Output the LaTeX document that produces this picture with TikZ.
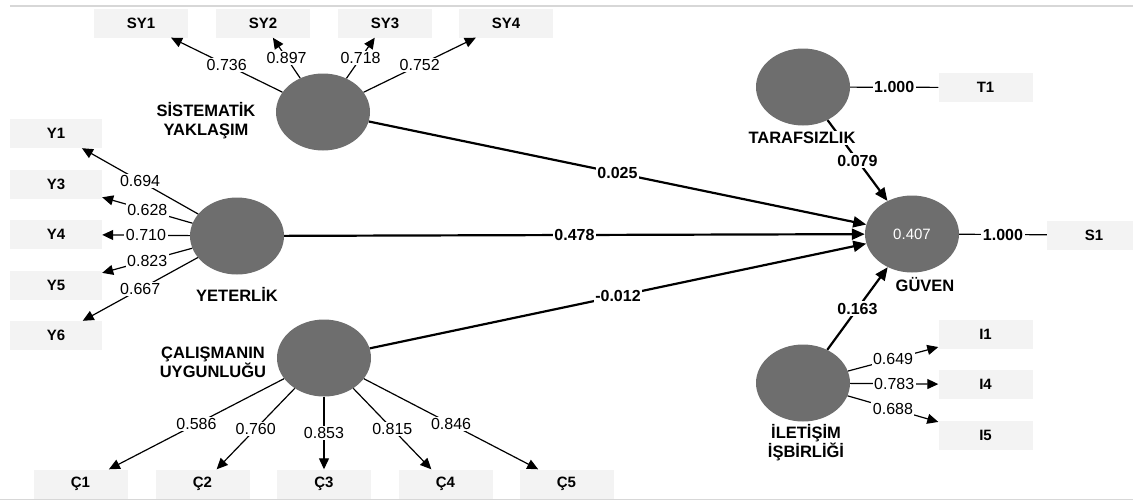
\documentclass[tikz,border=0pt]{standalone}
\usepackage{fontspec}
\setmainfont{Liberation Sans}
\usetikzlibrary{shapes.geometric,arrows.meta}
\definecolor{lvgray}{RGB}{110,110,110}
\definecolor{boxgray}{RGB}{243,243,243}
\definecolor{framegray}{RGB}{215,215,215}

\begin{document}
\begin{tikzpicture}
  [
    x=1pt,
    y=-1pt,
    >={Triangle[length=11pt,width=10pt]},
    lv/.style={ellipse, fill=lvgray, minimum width=94pt, minimum height=77pt, inner sep=0pt},
    ind/.style={fill=boxgray, minimum width=94pt, minimum height=29pt, inner sep=0pt, font=\fontsize{15}{17}\selectfont\bfseries},
    lvname/.style={fill=white, inner sep=1pt, align=center, font=\fontsize{16.5}{19}\selectfont\bfseries},
    load/.style={->, line width=1.2pt},
    single/.style={line width=1.2pt},
    struct/.style={->, line width=2.2pt, >={Triangle[length=13pt,width=11pt]}},
    lbl/.style={fill=white, inner sep=1.5pt, font=\fontsize{16}{18}\selectfont},
    coef/.style={lbl, font=\fontsize{16}{18}\selectfont\bfseries},
  ]
  \useasboundingbox (0,0) rectangle (1133,501);
  \draw[framegray, line width=2pt] (10,6) -- (1133,6);
  \draw[framegray, line width=1.5pt] (0,499.5) -- (1133,499.5);

  % latent variables
  \node[lv] (sy) at (323,112) {};
  \node[lv] (ye) at (237,236) {};
  \node[lv] (cu) at (324,358) {};
  \node[lv] (ta) at (803,87) {};
  \node[lv, text=white, font=\fontsize{15}{17}\selectfont] (gu) at (912,234) {0.407};
  \node[lv] (il) at (803,383) {};

  % indicators
  \foreach \n/\lab/\x/\w in {sy1/SY1/141/0.736, sy2/SY2/263/0.897, sy3/SY3/385/0.718, sy4/SY4/506/0.752}
  {
    \node[ind] (\n) at (\x,23) {\lab};
    \draw[load] (sy) -- node[lbl] {\w} (\n);
  }
  \foreach \n/\lab/\y/\w in {y1/Y1/133.5/0.694, y3/Y3/184/0.628, y4/Y4/234.5/0.710, y5/Y5/285.5/0.823, y6/Y6/335.5/0.667}
  {
    \node[ind, minimum width=92pt] (\n) at (56,\y) {\lab};
    \draw[load] (ye) -- node[lbl] {\w} (\n);
  }
  \foreach \n/\lab/\x/\w in {c1/Ç1/80.5/0.586, c2/Ç2/202.5/0.760, c3/Ç3/324/0.853, c4/Ç4/445.5/0.815, c5/Ç5/566.5/0.846}
  {
    \node[ind] (\n) at (\x,484) {\lab};
    \draw[load] (cu) -- node[lbl] {\w} (\n);
  }
  \foreach \n/\lab/\y/\w in {i1/I1/334.5/0.649, i4/I4/384.5/0.783, i5/I5/435.5/0.688}
  {
    \node[ind] (\n) at (985.5,\y) {\lab};
    \draw[load] (il) -- node[lbl] {\w} (\n);
  }
  \node[ind] (t1) at (985.5,87.5) {T1};
  \draw[single] (ta) -- node[coef] {1.000} (t1);
  \node[ind] (s1) at (1094,235) {S1};
  \draw[single] (gu) -- node[coef] {1.000} (s1);

  % structural paths
  \draw[struct] (sy) -- node[coef] {0.025} (gu);
  \draw[struct] (ye) -- node[coef] {0.478} (gu);
  \draw[struct] (cu) -- node[coef] {-0.012} (gu);
  \draw[struct] (ta) -- node[coef] {0.079} (gu);
  \draw[struct] (il) -- node[coef] {0.163} (gu);

  % construct names
  \node[lvname] (synm) at (206,121) {SİSTEMATİK\\YAKLAŞIM};
  \node[lvname] (yenm) at (237,294) {YETERLİK};
  \node[lvname] (cunm) at (213,362) {ÇALIŞMANIN\\UYGUNLUĞU};
  \node[lvname] (tanm) at (802,138) {TARAFSIZLIK};
  \node[lvname] (gunm) at (925,285) {GÜVEN};
  \node[lvname] (ilnm) at (806,443) {İLETİŞİM\\İŞBİRLİĞİ};
\end{tikzpicture}
\end{document}
